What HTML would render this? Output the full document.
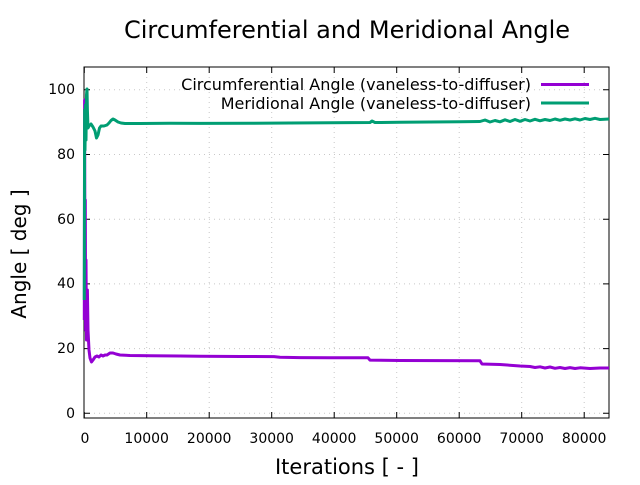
<!DOCTYPE html>
<html><head><style>body{margin:0;background:#fff}</style></head><body>
<svg width="640" height="480" xmlns="http://www.w3.org/2000/svg" font-family="DejaVu Sans, sans-serif">
<rect width="640" height="480" fill="#fff"/>
<g stroke="#c8c8c8" stroke-dasharray="1,4" stroke-width="1">
<line x1="146.7" y1="67" x2="146.7" y2="418"/><line x1="209.2" y1="67" x2="209.2" y2="418"/><line x1="271.7" y1="67" x2="271.7" y2="418"/><line x1="334.2" y1="67" x2="334.2" y2="418"/><line x1="396.7" y1="67" x2="396.7" y2="418"/><line x1="459.2" y1="67" x2="459.2" y2="418"/><line x1="521.7" y1="67" x2="521.7" y2="418"/><line x1="584.2" y1="67" x2="584.2" y2="418"/>
<line x1="84" y1="413.3" x2="609" y2="413.3"/><line x1="84" y1="348.6" x2="609" y2="348.6"/><line x1="84" y1="283.9" x2="609" y2="283.9"/><line x1="84" y1="219.2" x2="609" y2="219.2"/><line x1="84" y1="154.5" x2="609" y2="154.5"/><line x1="84" y1="89.8" x2="609" y2="89.8"/>
</g>
<g stroke="#000" stroke-width="1">
<rect x="84" y="67" width="525" height="351" fill="none"/>
<path d="M84,413.3h6M84,348.6h6M84,283.9h6M84,219.2h6M84,154.5h6M84,89.8h6M609,413.3h-6M609,348.6h-6M609,283.9h-6M609,219.2h-6M609,154.5h-6M609,89.8h-6M84.3,418v-6M146.7,418v-6M209.2,418v-6M271.7,418v-6M334.2,418v-6M396.7,418v-6M459.2,418v-6M521.7,418v-6M584.2,418v-6M84.3,67v6M146.7,67v6M209.2,67v6M271.7,67v6M334.2,67v6M396.7,67v6M459.2,67v6M521.7,67v6M584.2,67v6"/>
</g>
<g font-size="14" fill="#000" text-anchor="end">
<text x="75" y="418">0</text><text x="75" y="353">20</text><text x="75" y="288">40</text><text x="75" y="224">60</text><text x="75" y="159">80</text><text x="75" y="94">100</text>
</g>
<g font-size="14" fill="#000" text-anchor="middle">
<text x="85" y="443">0</text><text x="146.7" y="443">10000</text><text x="209.2" y="443">20000</text><text x="271.7" y="443">30000</text><text x="334.2" y="443">40000</text><text x="396.7" y="443">50000</text><text x="459.2" y="443">60000</text><text x="521.7" y="443">70000</text><text x="584.2" y="443">80000</text>
</g>
<text x="347" y="38" font-size="24" text-anchor="middle">Circumferential and Meridional Angle</text>
<text x="347" y="474" font-size="21" text-anchor="middle">Iterations [ - ]</text>
<text transform="translate(26,254) rotate(-90)" font-size="20" text-anchor="middle">Angle [ deg ]</text>
<polyline fill="none" stroke="#9400d3" stroke-width="3" stroke-linejoin="round" points="84.3,320 84.6,100 85,300 85.3,200 85.6,330 86,260 86.5,340 87,320 87.4,290 88,330 89,350 90,358 91.5,362 93,360 95,357 97,356 99,357 101,355 103,356 105,355 107,355 110,353 113,353 116,354 120,355 130,355.5 150,355.7 180,356 200,356.3 240,356.5 274,356.6 280,357.3 300,357.6 330,357.7 368,357.8 370,360.1 400,360.5 440,360.6 480,360.8 482,364 500,364.5 520,366 530,366.5 535,367.5 540,366.8 545,368 550,367 555,368.3 560,367.5 565,368.5 570,367.6 575,368.5 580,367.8 590,368.5 600,368 609,368"/>
<polyline fill="none" stroke="#009e73" stroke-width="3" stroke-linejoin="round" points="84.3,300 84.6,110 85,150 85.5,105 86,140 86.5,95 87,89 87.4,110 88,128 89,126 91,124 93,127 95,131 96.5,138 98,135 99.5,128 101,126 104,126 107,125 109,123 111,120.5 113,119 115,120 118,122 121,123 125,123.5 140,123.5 170,123.3 200,123.4 250,123.3 290,123 330,122.8 370,122.5 372,121 375,122.5 400,122.3 430,122 460,121.8 480,121.5 485,120 490,122 495,120.5 500,121.8 505,119.8 510,121.5 515,119.5 520,121.3 525,119.5 530,121 535,119.3 540,120.8 545,119.5 550,120.5 555,119 560,120.3 565,119 570,120 575,118.8 580,120 585,118.5 590,119.5 595,118.3 600,119.5 609,119"/>
<g font-size="16" fill="#000" text-anchor="end">
<text x="531" y="90">Circumferential Angle (vaneless-to-diffuser)</text>
<text x="531" y="109">Meridional Angle (vaneless-to-diffuser)</text>
</g>
<line x1="541" y1="84.5" x2="589" y2="84.5" stroke="#9400d3" stroke-width="3"/>
<line x1="541" y1="103" x2="589" y2="103" stroke="#009e73" stroke-width="3"/>
</svg>
</body></html>
